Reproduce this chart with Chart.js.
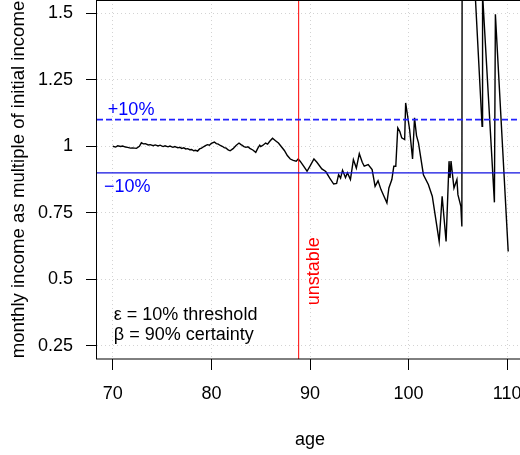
<!DOCTYPE html>
<html>
<head>
<meta charset="utf-8">
<script src="https://cdn.jsdelivr.net/npm/chart.js@4"></script>
<style>
  html, body { margin: 0; padding: 0; overflow: hidden; background: #fff; }
  #wrap { width: 520px; height: 455px; overflow: hidden; }
</style>
</head>
<body>
<div id="wrap"><canvas id="incomeChart" width="523" height="455"></canvas></div>
<script>
// ---------- Data ----------

const ages = [
  70.0, 70.3, 70.5, 70.8, 71.0, 71.3, 71.5, 71.8, 72.0, 72.4, 72.7, 72.9, 73.1, 73.3, 73.6,
  73.8, 74.1, 74.3, 74.6, 74.8, 75.1, 75.3, 75.6, 75.8, 76.1, 76.3, 76.6, 76.8, 77.0, 77.2,
  77.4, 77.6, 77.8, 78.0, 78.2, 78.4, 78.6, 78.8, 79.0, 79.2, 79.4, 79.6, 79.8, 80.0, 80.3,
  80.5, 80.7, 80.9, 81.1, 81.3, 81.5, 81.7, 81.9, 82.2, 82.5, 82.8, 83.0, 83.1, 83.3, 83.5,
  83.7, 83.9, 84.2, 84.5, 84.7, 84.9, 85.0, 85.2, 85.5, 85.7, 85.9, 86.2, 86.5, 86.8, 87.1,
  87.4, 87.7, 88.0, 88.3, 88.6, 88.8, 89.0, 89.3, 89.7, 90.0, 90.4, 90.7, 91.2, 91.6, 92.0,
  92.4, 92.7, 92.9, 93.1, 93.3, 93.6, 93.8, 94.1, 94.4, 94.7, 95.0, 95.3, 95.5, 95.9, 96.3,
  96.6, 96.9, 97.2, 97.5, 97.8, 98.0, 98.3, 98.5, 98.7, 98.9, 99.1, 99.3, 99.6, 99.7, 100.1,
  100.4, 100.6, 100.8, 101.0, 101.5, 102.0, 102.4, 103.1, 103.4, 103.8, 104.1, 104.2, 104.3,
  104.6, 104.9, 105.0, 105.3, 105.4, 105.45, 107.45, 107.5, 108.7, 108.8, 110.1
];

const income = [
  1.000, 0.997, 1.002, 0.999, 1.001, 0.997, 0.996, 0.993, 0.994, 0.992, 1.000, 1.013, 1.009, 1.010, 1.005,
  1.006, 1.002, 1.005, 1.001, 1.004, 0.999, 1.002, 0.998, 1.001, 0.996, 0.999, 0.994, 0.996, 0.992, 0.994,
  0.990, 0.991, 0.987, 0.988, 0.983, 0.985, 0.982, 0.990, 0.993, 0.998, 1.002, 1.006, 1.004, 1.011, 1.016,
  1.010, 1.008, 1.003, 1.000, 0.995, 0.993, 0.986, 0.983, 0.991, 1.003, 1.012, 1.006, 1.004, 0.999, 0.996,
  0.998, 0.992, 0.986, 0.977, 0.992, 1.004, 0.999, 1.003, 1.012, 1.008, 1.018, 1.030, 1.021, 1.012, 0.998,
  0.984, 0.965, 0.952, 0.947, 0.944, 0.952, 0.944, 0.928, 0.906, 0.925, 0.952, 0.940, 0.915, 0.905, 0.880,
  0.858, 0.860, 0.893, 0.880, 0.910, 0.882, 0.900, 0.875, 0.950, 0.918, 0.972, 0.940, 0.925, 0.931, 0.912,
  0.849, 0.870, 0.837, 0.812, 0.787, 0.843, 0.875, 0.925, 0.925, 1.069, 1.056, 1.032, 1.025, 1.163, 1.063,
  0.952, 1.107, 1.040, 1.013, 0.893, 0.856, 0.812, 0.642, 0.812, 0.642, 0.944, 0.881, 0.944,
  0.843, 0.875, 0.818, 0.774, 0.698, 2.500, 1.075, 1.572, 0.789, 1.496, 0.604
];

const xTicks = [70, 80, 90, 100, 110];
const yTicks = [0.25, 0.5, 0.75, 1, 1.25, 1.5];
const yTickLabels = ['0.25', '0.5', '0.75', '1', '1.25', '1.5'];

const upperBand = 1.1;
const lowerBand = 0.9;
const unstableAge = 88.85;

const xRange = [68.4, 111.6];
const yRange = [0.2, 1.55];

const legendLines = ['\u03B5 = 10% threshold', '\u03B2 = 90% certainty'];

// ---------- Helpers ----------

const FONT = '"Liberation Sans", Arial, Helvetica, sans-serif';
const BLUE = '#0000ff';
const RED = '#ff0000';

function toPoints(xs, ys) {
  return xs.map((x, i) => ({ x, y: ys[i] }));
}

// box, band labels and the text notes
const notesPlugin = {
  id: 'notes',
  afterDatasetsDraw(chart) {
    const { ctx, chartArea, scales: { x, y } } = chart;
    ctx.save();

    ctx.strokeStyle = '#000';
    ctx.lineWidth = 1;
    ctx.strokeRect(chartArea.left - 0.5, chartArea.top + 0.5,
      chartArea.right - chartArea.left, chartArea.bottom - chartArea.top - 0.5);

    ctx.font = '18px ' + FONT;
    ctx.textBaseline = 'alphabetic';
    ctx.textAlign = 'left';

    ctx.fillStyle = BLUE;
    ctx.fillText('+10%', x.getPixelForValue(69.5), y.getPixelForValue(upperBand) - 4.5);
    ctx.fillText('\u221210%', x.getPixelForValue(69.1), y.getPixelForValue(lowerBand) + 19);

    ctx.fillStyle = '#000';
    legendLines.forEach((line, i) => {
      ctx.fillText(line, x.getPixelForValue(70) + 1, y.getPixelForValue(0.25) - 26 + i * 20);
    });

    ctx.fillStyle = RED;
    ctx.translate(x.getPixelForValue(unstableAge) + 15, y.getPixelForValue(0.53));
    ctx.rotate(-Math.PI / 2);
    ctx.textAlign = 'center';
    ctx.textBaseline = 'middle';
    ctx.fillText('unstable', 0, 0);

    ctx.restore();
  }
};

// ---------- Chart ----------

function initIncomeChart() {
  const ctx = document.getElementById('incomeChart').getContext('2d');

  const gridOpts = {
    color: '#d3d3d3',
    lineWidth: 1,
    tickColor: '#000',
    tickLength: 11,
    tickWidth: 1
  };

  return new Chart(ctx, {
    type: 'line',
    data: {
      datasets: [
        {
          label: 'upper',
          data: toPoints(xRange, [upperBand, upperBand]),
          borderColor: '#2222ff',
          borderWidth: 1.6,
          borderDash: [6, 3],
          borderCapStyle: 'butt',
          pointRadius: 0,
          order: 0
        },
        {
          label: 'lower',
          data: toPoints(xRange, [lowerBand, lowerBand]),
          borderColor: '#1010e0',
          borderWidth: 1.4,
          pointRadius: 0,
          order: 0
        },
        {
          label: 'unstable',
          data: toPoints([unstableAge, unstableAge], yRange),
          borderColor: RED,
          borderWidth: 1,
          pointRadius: 0,
          order: 0
        },
        {
          label: 'income',
          data: toPoints(ages, income),
          borderColor: '#000',
          borderWidth: 1.4,
          pointRadius: 0,
          tension: 0,
          order: 1
        }
      ]
    },
    options: {
      responsive: false,
      animation: false,
      devicePixelRatio: 1,
      layout: { padding: 0 },
      plugins: {
        legend: { display: false },
        tooltip: { enabled: false }
      },
      scales: {
        x: {
          type: 'linear',
          min: xRange[0],
          max: xRange[1],
          afterBuildTicks: (s) => { s.ticks = xTicks.map((v) => ({ value: v })); },
          afterFit: (s) => { s.height = 96; s.paddingLeft = 0; s.paddingRight = 0; },
          grid: gridOpts,
          border: { display: false, dash: [1, 3] },
          ticks: {
            color: '#000',
            padding: 13,
            maxRotation: 0,
            font: { family: FONT, size: 18 }
          },
          title: {
            display: true,
            text: 'age',
            color: '#000',
            padding: { top: 0, bottom: 4 },
            font: { family: FONT, size: 18 }
          }
        },
        y: {
          type: 'linear',
          min: yRange[0],
          max: yRange[1],
          afterBuildTicks: (s) => { s.ticks = yTicks.map((v) => ({ value: v })); },
          afterFit: (s) => { s.width = 97; s.paddingTop = 0; s.paddingBottom = 0; },
          grid: gridOpts,
          border: { display: false, dash: [1, 3] },
          ticks: {
            color: '#000',
            padding: 13,
            font: { family: FONT, size: 18 },
            callback: (value) => yTickLabels[yTicks.indexOf(value)]
          },
          title: {
            display: true,
            text: 'monthly income as multiple of initial income',
            color: '#000',
            padding: { top: 8, bottom: 0 },
            font: { family: FONT, size: 18.6 }
          }
        }
      }
    },
    plugins: [notesPlugin]
  });
}

document.addEventListener('DOMContentLoaded', () => {
  initIncomeChart();
});
</script>
</body>
</html>
